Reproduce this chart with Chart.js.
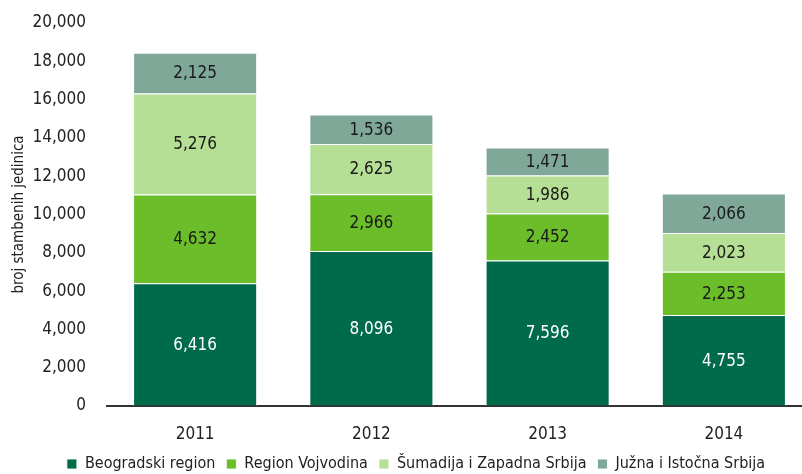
<!DOCTYPE html>
<html>
<head>
<meta charset="utf-8">
<title>Broj stambenih jedinica po regionima</title>
<script src="https://cdn.jsdelivr.net/npm/chart.js@4.4.1/dist/chart.umd.min.js"></script>
<style>
    html, body { margin: 0; padding: 0; background: #fff; overflow: hidden; }
    .chart-wrap { position: relative; width: 812px; height: 474px; }
</style>
</head>
<body>
<div class="chart-wrap">
    <canvas id="housingChart"></canvas>
</div>
<script>
/*
 * Stacked bar chart: number of housing units by region, 2011-2014.
 */

const years = ['2011', '2012', '2013', '2014'];
const beogradski = [6416, 8096, 7596, 4755];
const vojvodina = [4632, 2966, 2452, 2253];
const sumadija = [5276, 2625, 1986, 2023];
const juzna = [2125, 1536, 1471, 2066];
const yTicks = [0, 2000, 4000, 6000, 8000, 10000, 12000, 14000, 16000, 18000, 20000];

const FONT = "'DejaVu Sans Condensed', 'Liberation Sans Narrow', 'Roboto Condensed', sans-serif";

Chart.defaults.font.family = FONT;
Chart.defaults.color = '#222';

/**
 * Draws the value of each segment in the middle of it.
 */
const segmentLabels = {
    id: 'segmentLabels',
    afterDatasetsDraw(chart) {
        const ctx = chart.ctx;
        ctx.save();
        ctx.font = '17px ' + FONT;
        ctx.textAlign = 'center';
        ctx.textBaseline = 'middle';
        chart.data.datasets.forEach((ds, i) => {
            const meta = chart.getDatasetMeta(i);
            meta.data.forEach((bar, j) => {
                const mid = (bar.y + bar.base) / 2;
                ctx.fillStyle = i === 0 ? '#ffffff' : '#1a1a1a';
                ctx.fillText(ds.data[j].toLocaleString('en-US'), bar.x, mid + 1);
            });
        });
        ctx.restore();
    }
};

function makeDataset(label, data, color) {
    return {
        label: label,
        data: data,
        backgroundColor: color,
        borderColor: 'rgba(255,255,255,0.85)',
        borderWidth: 1,
        barPercentage: 0.704,
        categoryPercentage: 1.0
    };
}

function renderChart() {
    const ctx = document.getElementById('housingChart');
    new Chart(ctx, {
        type: 'bar',
        data: {
            labels: years,
            datasets: [
                makeDataset('Beogradski region', beogradski, '#006b4b'),
                makeDataset('Region Vojvodina', vojvodina, '#6bbd2a'),
                makeDataset('Šumadija i Zapadna Srbija', sumadija, '#b5df94'),
                makeDataset('Južna i Istočna Srbija', juzna, '#80a898')
            ]
        },
        options: {
            responsive: true,
            maintainAspectRatio: false,
            animation: false,
            // legend sits lower than Chart.js would put it, hence the negative bottom
            layout: { padding: { top: 23, left: 20, right: 0, bottom: -8 } },
            plugins: {
                tooltip: { enabled: false },
                legend: {
                    position: 'bottom',
                    align: 'center',
                    labels: {
                        boxWidth: 10,
                        boxHeight: 10,
                        padding: 11,
                        color: '#222',
                        font: { size: 16 }
                    }
                }
            },
            scales: {
                x: {
                    stacked: true,
                    grid: { display: false, drawTicks: false },
                    border: { display: true, color: '#333', width: 2 },
                    ticks: { padding: 18, color: '#222', font: { size: 17 } },
                    afterFit(scale) { scale.height = 39; }
                },
                y: {
                    stacked: true,
                    min: 0,
                    max: 20000,
                    // invisible tick marks give the gap between labels and bars
                    grid: {
                        display: true,
                        drawOnChartArea: false,
                        drawTicks: true,
                        tickLength: 21,
                        color: 'rgba(0,0,0,0)'
                    },
                    border: { display: false },
                    afterBuildTicks(scale) {
                        scale.ticks = yTicks.map(v => ({ value: v }));
                    },
                    ticks: {
                        padding: 0,
                        color: '#222',
                        font: { size: 17 },
                        callback: v => v.toLocaleString('en-US')
                    },
                    title: {
                        display: true,
                        text: 'broj stambenih jedinica',
                        color: '#222',
                        font: { size: 15 },
                        padding: { top: -10, bottom: 0 }
                    },
                    afterFit(scale) { scale.width = 87; }
                }
            }
        },
        plugins: [segmentLabels]
    });
}

document.addEventListener('DOMContentLoaded', renderChart);
</script>
</body>
</html>
